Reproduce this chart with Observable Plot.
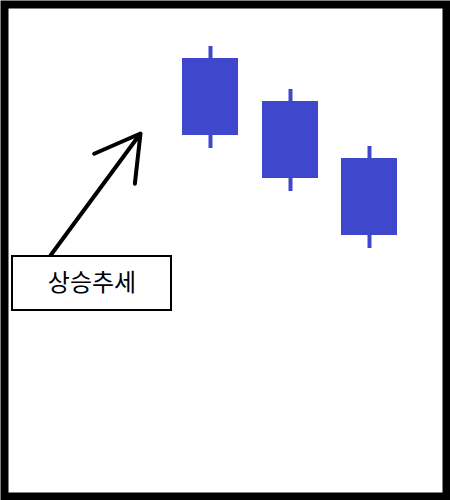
<!DOCTYPE html>
<html><head><meta charset="utf-8">
<script src="https://cdn.jsdelivr.net/npm/d3@7"></script>
<script src="https://cdn.jsdelivr.net/npm/@observablehq/plot@0.6"></script>
<style>body{margin:0;background:#fff}</style>
</head><body><div id="c"></div>
<script>
const days = [21, 29, 36.9];
const opens = [44.2, 39.9, 34.2];
const closes = [36.5, 32.2, 26.5];
const highs = [45.4, 41.1, 35.4];
const lows = [35.2, 30.9, 25.2];
const label = "상승추세";
const candles = days.map((d, i) => ({x: d, open: opens[i], close: closes[i], high: highs[i], low: lows[i]}));
const arrowData = [{x1: 5, y1: 24.5, x2: 14, y2: 36.7}];
const boxData = [{x1: 1.2, x2: 17.1, y1: 19, y2: 24.4, label}];
const blue = "#3f48cc";
const chart = Plot.plot({
  width: 450, height: 500, margin: 0,
  x: {domain: [0, 45], axis: null},
  y: {domain: [0, 50], axis: null},
  marks: [
    Plot.ruleX(candles, {x: "x", y1: "low", y2: "high", stroke: blue, strokeWidth: 4}),
    Plot.rect(candles, {x1: d => d.x - 2.8, x2: d => d.x + 2.8, y1: "close", y2: "open", fill: blue}),
    Plot.arrow(arrowData, {x1: "x1", y1: "y1", x2: "x2", y2: "y2", stroke: "black", strokeWidth: 4, headLength: 22, bend: 0}),
    Plot.rect(boxData, {x1: "x1", x2: "x2", y1: "y1", y2: "y2", fill: "white", stroke: "black", strokeWidth: 2}),
    Plot.text(boxData, {x: d => (d.x1 + d.x2) / 2, y: d => (d.y1 + d.y2) / 2, text: "label", fontSize: 24, fill: "black", fontFamily: "Noto Sans CJK KR"}),
    Plot.frame({stroke: "black", strokeWidth: 8, inset: 4})
  ]
});
document.getElementById("c").append(chart);
</script></body></html>
